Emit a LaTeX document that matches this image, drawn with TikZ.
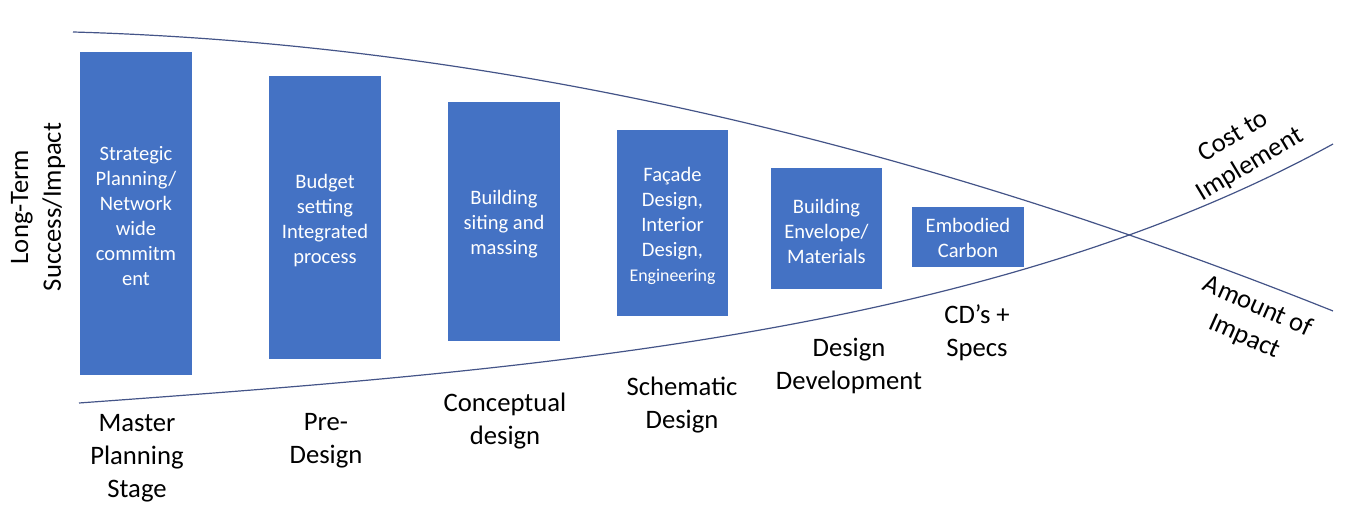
\documentclass[tikz,border=0pt]{standalone}
\usepackage{fontspec}
\setmainfont{Carlito}
\definecolor{boxblue}{RGB}{68,114,196}
\definecolor{linecol}{RGB}{68,84,136}
\begin{document}
\begin{tikzpicture}[x=0.75pt,y=-0.75pt,
  stagebox/.style={fill=boxblue, draw=none, text=white, align=center,
    font=\fontsize{15.4}{18.75}\selectfont, inner sep=0pt},
  boxtext/.style={align=center, text=white, font=\fontsize{15.4}{18.75}\selectfont, inner sep=0pt},
  stagelbl/.style={align=center, font=\fontsize{20}{24.6}\selectfont, text=black, inner sep=0pt},
  curve/.style={draw=linecol, line width=0.9pt}]
\useasboundingbox (0,0) rectangle (1363,523);

% curves
\coordinate (t0) at (73,32);
\coordinate (t1) at (1333,311);
\draw[curve] (t0) .. controls (493,44) and (913,143) .. (t1);
\coordinate (u0) at (79,403);
\coordinate (u1) at (1333,144);
\draw[curve] (u0) .. controls (520,371) and (983,336) .. (u1);

% boxes
\node[stagebox, minimum width=84pt, minimum height=242.25pt] (b1) at (136,213.5) {};
\node[boxtext] at ([yshift=-2pt]b1.center) {Strategic\\Planning/\\Network\\wide\\commitm\\ent};
\node[stagebox, minimum width=84pt, minimum height=212.25pt] (b2) at (325,217.5) {};
\node[boxtext] at ([yshift=-2pt]b2.center) {Budget\\setting\\Integrated\\process};
\node[stagebox, minimum width=84pt, minimum height=179.25pt] (b3) at (504,221.5) {};
\node[boxtext] at ([yshift=-2pt]b3.center) {Building\\siting and\\massing};
\node[stagebox, minimum width=83.25pt, minimum height=139.5pt] (b4) at (672.5,223) {};
\node[boxtext] at ([yshift=-2pt]b4.center) {Façade\\Design,\\Interior\\Design,\\{\fontsize{13.4}{18.75}\selectfont Engineering}};
\node[stagebox, minimum width=83.25pt, minimum height=90.75pt] (b5) at (826.5,228.5) {};
\node[boxtext] at ([yshift=-2pt]b5.center) {Building\\Envelope/\\Materials};
\node[stagebox, minimum width=84pt, minimum height=45pt] (b6) at (968,237) {};
\node[boxtext] at ([yshift=-1pt]b6.center) {Embodied\\Carbon};

% stage labels
\node[stagelbl] (l1) at (137,458) {Master\\Planning\\Stage};
\node[stagelbl] (l2) at (326,441) {Pre-\\Design};
\node[stagelbl] (l3) at (505,421) {Conceptual\\design};
\node[stagelbl] (l4) at (682,405) {Schematic\\Design};
\node[stagelbl] (l5) at (849,366) {Design\\Development};
\node[stagelbl] (l6) at (977,333) {CD’s +\\Specs};

% axis / curve labels
\node[stagelbl, rotate=90] (yl) at (38,207) {Long-Term\\Success/Impact};
\node[stagelbl, rotate=31] (cost) at (1242,151) {Cost to\\Implement};
\node[stagelbl, rotate=-24] (amt) at (1251,322) {Amount of\\Impact};
\end{tikzpicture}
\end{document}
